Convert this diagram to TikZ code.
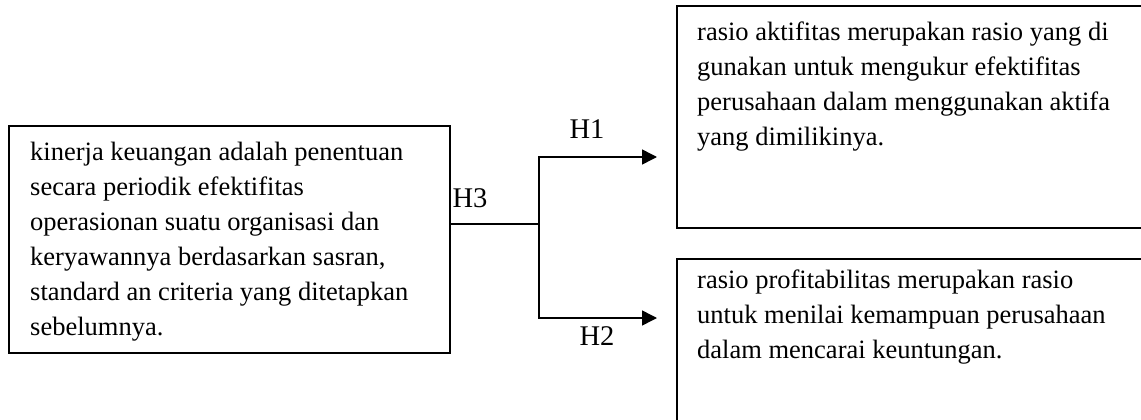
\documentclass[tikz,border=0pt]{standalone}
\usepackage{fontspec}
\setmainfont{Liberation Serif}
\usetikzlibrary{arrows.meta}
\tikzset{
  box/.style={draw=black, line width=1.8pt, rectangle, inner sep=0pt, anchor=north west},
  body/.style={inner sep=0pt, anchor=base west, align=left, font=\fontsize{26.5}{35}\selectfont},
  hlabel/.style={inner sep=0pt, anchor=base, font=\fontsize{28.5}{30}\selectfont},
  conn/.style={line width=1.5pt},
  arr/.style={line width=1.5pt, -{Triangle[length=15pt,width=15pt]}}
}
\begin{document}
\begin{tikzpicture}[x=1pt,y=-1pt]
\useasboundingbox (0,0) rectangle (1141,420);
\clip (0,0) rectangle (1141,420);
% boxes
\node[box, minimum width=441pt, minimum height=227pt] (L) at (8,125) {};
\node[box, minimum width=480pt, minimum height=222pt] (R1) at (676,5) {};
\node[box, minimum width=480pt, minimum height=200pt] (R2) at (676,258) {};
% texts (anchor = baseline of last line)
\node[body] (tL) at (30,335) {kinerja keuangan adalah penentuan\\secara periodik efektifitas\\operasionan suatu organisasi dan\\keryawannya berdasarkan sasran,\\standard an criteria yang ditetapkan\\sebelumnya.};
\node[body] (t1) at (697,145) {rasio aktifitas merupakan rasio yang di\\gunakan untuk mengukur efektifitas\\perusahaan dalam menggunakan aktifa\\yang dimilikinya.};
\node[body] (t2) at (697,358) {rasio profitabilitas merupakan rasio\\untuk menilai kemampuan perusahaan\\dalam mencarai keuntungan.};
% connectors
\coordinate (j) at (539,224);
\coordinate (a1) at (657,157);
\coordinate (a2) at (657,318);
\draw[conn] (L.east |- j) -- (j);
\draw[arr] (j) |- (a1);
\draw[arr] (j) |- (a2);
% labels
\node[hlabel] (h1) at (587,139) {H1};
\node[hlabel] (h2) at (597,345) {H2};
\node[hlabel] (h3) at (470,207) {H3};
\end{tikzpicture}
\end{document}
